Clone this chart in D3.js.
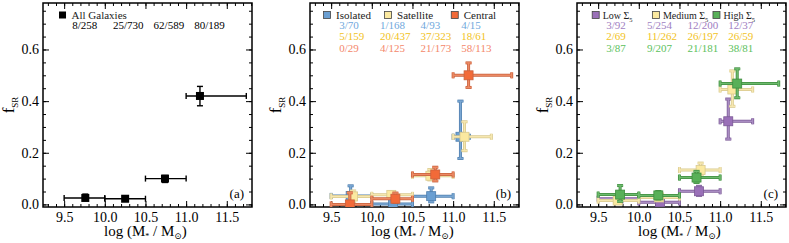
<!DOCTYPE html>
<html>
<head>
<meta charset="utf-8">
<script src="https://cdn.jsdelivr.net/npm/d3@7"></script>
<style>
  body { margin: 0; background: #fff; }
  svg { display: block; }
  text { font-family: "Liberation Serif", "Times New Roman", "DejaVu Serif", serif; }
  .axis path { display: none; }
  .axis line { stroke: #000; stroke-width: 1; }
  .axis text { font-size: 14px; fill: #000; font-family: "Liberation Serif", "Times New Roman", serif; }
</style>
</head>
<body>
<script>
// mass bin edges (shared)
var binLo = [9.5, 10.0, 10.5, 11.0];

// panel (a) all galaxies
var allX = [9.76, 10.25, 10.74, 11.17],
    allY = [0.025, 0.022, 0.100, 0.420],
    allYLo = [0.016, 0.017, 0.085, 0.382],
    allYHi = [0.040, 0.028, 0.112, 0.457],
    allXHi = [10.0, 10.5, 11.0, 11.74],
    allN = ['8/258', '25/730', '62/589', '80/189'];

// panel (b) environment
var isoX = [9.74, 10.26, 10.73, 11.09],
    isoY = [0.033, 0.002, 0.032, 0.262],
    isoYLo = [0.0, 0.0, 0.010, 0.178],
    isoYHi = [0.072, 0.012, 0.064, 0.400],
    isoXHi = [10.0, 10.5, 11.0, 11.2],
    isoN = ['3/70', '1/168', '4/93', '4/15'];

var satX = [9.77, 10.24, 10.72, 11.14],
    satY = [0.031, 0.037, 0.111, 0.262],
    satYLo = [0.012, 0.027, 0.095, 0.208],
    satYHi = [0.052, 0.048, 0.135, 0.320],
    satXHi = [10.0, 10.5, 11.0, 11.47],
    satN = ['5/159', '20/437', '37/323', '18/61'];

var cenX = [9.73, 10.29, 10.78, 11.19],
    cenY = [0.0, 0.022, 0.116, 0.500],
    cenYLo = [0.0, 0.008, 0.091, 0.453],
    cenYHi = [0.045, 0.044, 0.144, 0.548],
    cenXHi = [10.0, 10.5, 11.0, 11.72],
    cenN = ['0/29', '4/125', '21/173', '58/113'];

// panel (c) local density
var lowX = [9.75, 10.26, 10.74, 11.10],
    lowY = [0.022, 0.008, 0.051, 0.322],
    lowYLo = [0.012, 0.002, 0.035, 0.253],
    lowYHi = [0.036, 0.016, 0.070, 0.408],
    lowXHi = [10.0, 10.5, 11.0, 11.40],
    lowN = ['3/92', '5/254', '12/200', '12/37'];

var medX = [9.74, 10.25, 10.76, 11.15],
    medY = [0.015, 0.027, 0.133, 0.445],
    medYLo = [0.005, 0.017, 0.110, 0.380],
    medYHi = [0.030, 0.040, 0.160, 0.517],
    medXHi = [10.0, 10.5, 11.0, 11.40],
    medN = ['2/69', '11/262', '26/197', '26/59'];

var hiX = [9.77, 10.24, 10.71, 11.21],
    hiY = [0.038, 0.035, 0.104, 0.468],
    hiYLo = [0.012, 0.021, 0.085, 0.413],
    hiYHi = [0.073, 0.050, 0.128, 0.525],
    hiXHi = [10.0, 10.5, 11.0, 11.72],
    hiN = ['3/87', '9/207', '21/181', '38/81'];

var xTicks = [9.5, 10.0, 10.5, 11.0, 11.5],
    yTicks = [0.0, 0.2, 0.4, 0.6];

function pack(name, xs, ys, ylo, yhi, xhi, counts, c) {
    return {name: name, counts: counts, color: c,
        pts: xs.map(function(x, i) {
            return {x: x, y: ys[i], ylo: ylo[i], yhi: yhi[i], xlo: binLo[i], xhi: xhi[i]};
        })};
}

var panels = [
    {left: 43, tag: '(a)', single: true, legX: [9.48], legGap: 9,
     series: [pack('All Galaxies', allX, allY, allYLo, allYHi, allXHi, allN,
        {fill: '#000', edge: '#000', bar: '#000', text: '#000'})]},
    {left: 310, tag: '(b)', legX: [9.45, 10.2, 11.02], legGap: 9,
     series: [
        pack('Isolated', isoX, isoY, isoYLo, isoYHi, isoXHi, isoN,
            {fill: '#6a9fd2', edge: '#4f7fae', bar: '#7aa7d3', text: '#6fa7dc'}),
        pack('Satellite', satX, satY, satYLo, satYHi, satXHi, satN,
            {fill: '#fbe9a0', edge: '#d8c98e', bar: '#f6e7b0', text: '#f2c21a'}),
        pack('Central', cenX, cenY, cenYLo, cenYHi, cenXHi, cenN,
            {fill: '#f26a38', edge: '#c8603c', bar: '#ec8a64', text: '#f4876a'})]},
    {left: 577, tag: '(c)', sigma: true, legX: [9.47, 10.21, 10.955], legGap: 7,
     series: [
        pack('Low', lowX, lowY, lowYLo, lowYHi, lowXHi, lowN,
            {fill: '#9a70b8', edge: '#7b5a96', bar: '#a98cc2', text: '#a07ec2'}),
        pack('Medium', medX, medY, medYLo, medYHi, medXHi, medN,
            {fill: '#fbe9a0', edge: '#d8c98e', bar: '#f6e7b0', text: '#f2c21a'}),
        pack('High', hiX, hiY, hiYLo, hiYHi, hiXHi, hiN,
            {fill: '#58b058', edge: '#3f8d3f', bar: '#6dba6d', text: '#5cbf5c'})]}
];

var W = 789, H = 243,
    marginTop = 3, pw = 209, ph = 204;

var svg = d3.select('body').append('svg')
    .attr('width', W).attr('height', H);

var x = d3.scaleLinear().domain([9.24, 11.81]).range([0, pw]);
var y = d3.scaleLinear().domain([-0.01, 0.78]).range([ph, 0]);

var xMinor = d3.range(9.3, 11.81, 0.1).map(function(d) { return +d.toFixed(1); });
var yMinor = d3.range(0, 0.78, 0.05).map(function(d) { return +d.toFixed(2); });
var fmt = d3.format('.1f');

panels.forEach(function(p) {
    var g = svg.append('g').attr('transform', 'translate(' + p.left + ',' + marginTop + ')');

    // axes: ticks point inward on all four sides
    g.append('g').attr('class', 'axis').attr('transform', 'translate(0,' + ph + ')')
        .call(d3.axisBottom(x).tickValues(xMinor).tickSize(-3).tickFormat(''));
    g.append('g').attr('class', 'axis').attr('transform', 'translate(0,' + ph + ')')
        .call(d3.axisBottom(x).tickValues(xTicks).tickSize(-6).tickPadding(5).tickFormat(fmt));
    g.append('g').attr('class', 'axis')
        .call(d3.axisTop(x).tickValues(xMinor).tickSize(-3).tickFormat(''));
    g.append('g').attr('class', 'axis')
        .call(d3.axisTop(x).tickValues(xTicks).tickSize(-6).tickFormat(''));
    g.append('g').attr('class', 'axis')
        .call(d3.axisLeft(y).tickValues(yMinor).tickSize(-3).tickFormat(''));
    g.append('g').attr('class', 'axis')
        .call(d3.axisLeft(y).tickValues(yTicks).tickSize(-6).tickPadding(4).tickFormat(fmt));
    g.append('g').attr('class', 'axis').attr('transform', 'translate(' + pw + ',0)')
        .call(d3.axisRight(y).tickValues(yMinor).tickSize(-3).tickFormat(''));
    g.append('g').attr('class', 'axis').attr('transform', 'translate(' + pw + ',0)')
        .call(d3.axisRight(y).tickValues(yTicks).tickSize(-6).tickFormat(''));

    g.append('rect').attr('width', pw).attr('height', ph)
        .attr('fill', 'none').attr('stroke', '#000').attr('stroke-width', 1.5);

    // axis titles
    g.append('text')
        .attr('transform', 'translate(-29,' + (ph / 2) + ') rotate(-90)')
        .attr('text-anchor', 'middle').style('font-size', '17px')
        .call(function(t) {
            t.append('tspan').text('f');
            t.append('tspan').attr('dy', 4).style('font-size', '9px').text('SR');
        });
    g.append('text')
        .attr('x', x(10.5)).attr('y', ph + 29)
        .attr('text-anchor', 'middle').style('font-size', '15px')
        .call(function(t) {
            t.append('tspan').text('log (M');
            t.append('tspan').attr('dy', 3).style('font-size', '8px').text('*');
            t.append('tspan').attr('dy', -3).text(' / M');
            t.append('tspan').attr('dy', 3).style('font-size', '9px').text('\u2299');
            t.append('tspan').attr('dy', -3).text(')');
        });

    g.append('text').attr('x', pw - 8).attr('y', ph - 9)
        .attr('text-anchor', 'end').style('font-size', '13px').text(p.tag);

    // data: error bars + markers
    var clip = 'clip' + p.tag.replace(/\W/g, '');
    g.append('clipPath').attr('id', clip).append('rect').attr('width', pw).attr('height', ph);
    var plot = g.append('g').attr('clip-path', 'url(#' + clip + ')');
    var cap = 3;

    p.series.forEach(function(s) {
        var c = s.color;
        var layers = p.single ? [{col: c.bar, w: 1.4}] : [{col: c.edge, w: 3}, {col: c.bar, w: 1.5}];
        layers.forEach(function(L) {
            var eg = plot.append('g').attr('stroke', L.col).attr('stroke-width', L.w)
                .attr('fill', 'none').attr('stroke-linecap', 'butt');
            s.pts.forEach(function(d) {
                eg.append('line').attr('x1', x(d.xlo)).attr('x2', x(d.xhi))
                    .attr('y1', y(d.y)).attr('y2', y(d.y));
                eg.append('line').attr('x1', x(d.x)).attr('x2', x(d.x))
                    .attr('y1', y(d.ylo)).attr('y2', y(d.yhi));
                [d.xlo, d.xhi].forEach(function(v) {
                    eg.append('line').attr('x1', x(v)).attr('x2', x(v))
                        .attr('y1', y(d.y) - cap).attr('y2', y(d.y) + cap);
                });
                [d.ylo, d.yhi].forEach(function(v) {
                    eg.append('line').attr('x1', x(d.x) - cap).attr('x2', x(d.x) + cap)
                        .attr('y1', y(v)).attr('y2', y(v));
                });
            });
        });
        var ms = p.single ? 8 : 9;
        plot.selectAll(null).data(s.pts).enter().append('rect')
            .attr('x', function(d) { return x(d.x) - ms / 2; })
            .attr('y', function(d) { return y(d.y) - ms / 2; })
            .attr('width', ms).attr('height', ms)
            .attr('fill', c.fill)
            .attr('stroke', p.single ? 'none' : c.edge).attr('stroke-width', 0.8);
    });

    // legend
    p.series.forEach(function(s, i) {
        var lx = x(p.legX[i]);
        g.append('rect').attr('x', lx - 3.5).attr('y', 12 - 3.5)
            .attr('width', 7).attr('height', 7)
            .attr('fill', s.color.fill)
            .attr('stroke', p.single ? 'none' : '#444').attr('stroke-width', 0.8);
        var t = g.append('text').attr('x', lx + p.legGap).attr('y', 16)
            .style('font-size', p.sigma ? '10px' : '11px').attr('fill', '#222');
        if (p.sigma) {
            t.append('tspan').text(s.name + ' \u03A3');
            t.append('tspan').attr('dy', 3).style('font-size', '6.5px').text('5');
        } else {
            t.text(s.name);
        }
        s.counts.forEach(function(n, j) {
            g.append('text').attr('x', x(binLo[j] + 0.1)).attr('y', 26 + i * 11.3)
                .style('font-size', '11px').attr('fill', s.color.text).text(n);
        });
    });
});
</script>
</body>
</html>
